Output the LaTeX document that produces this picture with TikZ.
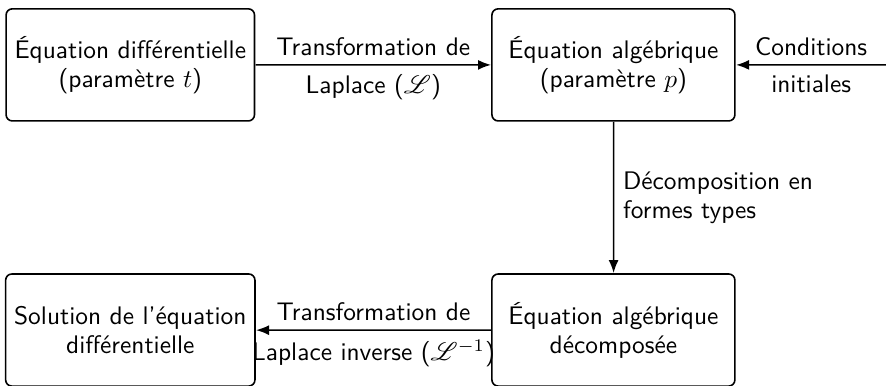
\documentclass[tikz,border=0pt]{standalone}
\usepackage{mathrsfs}
\usetikzlibrary{arrows.meta}
\renewcommand{\familydefault}{\sfdefault}
\tikzset{
  boite/.style={draw, rounded corners=3.1pt, minimum width=3.362cm, minimum height=1.551cm, align=center, thick},
}
\begin{document}
\begin{tikzpicture}[scale=1.27, every node/.style={transform shape, font=\fontsize{10}{11.4}\selectfont}]

\useasboundingbox (0,0) rectangle (12.26,-5.339);

\node [boite] (eqdiff) at (1.803,-0.898) {Équation différentielle\\(paramètre $t$)};
\node [boite] (eqalg)  at (8.488,-0.898) {Équation algébrique\\(paramètre $p$)};
\node [boite] (eqdec)  at (8.488,-4.567) {Équation algébrique\\décomposée};
\node [boite] (sol)    at (1.803,-4.567) {Solution de l'équation\\différentielle};
\coordinate (ci) at (12.26,-0.898);

\begin{scope}[-{Latex[length=6.5pt,width=5pt]}, thick]
\draw (eqdiff) -- (eqalg) node [midway, above] {Transformation de} node [midway, below] {Laplace ($\mathscr{L}$)};
\draw (ci) -- (eqalg) node [midway, above] {Conditions} node [midway, below] {initiales};
\draw (eqalg) -- (eqdec) node [midway, right, align=left] {Décomposition en\\formes types};
\draw (eqdec) -- (sol) node [midway, above] {Transformation de} node [midway, below] {Laplace inverse ($\mathscr{L}^{-1}$)};
\end{scope}

\end{tikzpicture}
\end{document}
